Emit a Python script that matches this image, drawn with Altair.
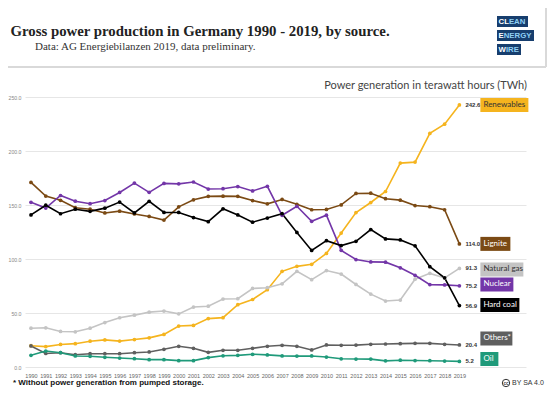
import altair as alt
import pandas as pd

years = list(range(1990, 2020))

renewables = [19.7, 18.9, 20.9, 21.6, 23.9, 25.1, 24.0, 25.4, 27.0, 30.2,
              37.9, 38.5, 44.8, 45.7, 57.7, 62.5, 71.6, 88.6, 93.2, 95.1,
              105.2, 124.0, 143.0, 152.3, 162.5, 188.8, 189.7, 216.3, 224.8, 242.6]
lignite = [170.9, 158.3, 154.3, 147.5, 146.1, 142.6, 144.3, 141.7, 139.4, 136.0,
           148.3, 154.8, 158.0, 158.2, 158.0, 154.1, 151.1, 155.1, 150.6, 145.6,
           145.9, 150.1, 160.7, 160.9, 155.8, 154.5, 149.5, 148.4, 145.6, 114.0]
natural_gas = [35.9, 36.3, 32.9, 32.6, 35.9, 41.1, 45.6, 48.0, 50.8, 51.8,
               49.2, 55.5, 56.3, 62.9, 63.2, 72.7, 73.4, 77.0, 88.6, 80.9,
               89.3, 86.1, 76.4, 67.5, 61.1, 62.0, 81.3, 86.7, 82.5, 91.3]
nuclear = [152.5, 147.2, 158.8, 153.5, 151.2, 154.1, 161.6, 170.3, 161.7, 170.0,
           169.6, 171.3, 164.8, 165.1, 167.1, 163.0, 167.3, 140.5, 148.8, 134.9,
           140.6, 108.0, 99.5, 97.3, 97.1, 91.8, 84.9, 76.3, 76.0, 75.2]
hard_coal = [140.8, 149.8, 141.9, 146.1, 144.1, 147.1, 152.7, 142.6, 153.4, 143.1,
             143.1, 138.4, 134.6, 146.5, 140.8, 134.1, 137.9, 142.0, 124.6, 107.9,
             117.0, 112.4, 116.4, 127.3, 118.6, 117.7, 112.2, 92.9, 82.6, 56.9]
others = [19.5, 12.5, 13.2, 11.4, 12.3, 12.3, 12.3, 13.2, 13.9, 16.4,
          19.2, 17.3, 13.6, 15.5, 15.5, 17.3, 19.2, 20.1, 19.2, 15.8,
          20.4, 20.1, 20.3, 21.0, 21.3, 21.6, 21.9, 21.9, 21.0, 20.4]
oil = [10.8, 14.8, 13.2, 10.2, 9.9, 9.0, 8.3, 7.7, 6.8, 6.8,
       5.9, 5.9, 8.7, 10.4, 10.8, 11.8, 11.2, 10.3, 10.1, 10.2,
       9.2, 7.6, 7.4, 7.3, 5.7, 6.3, 6.0, 5.8, 5.5, 5.2]

series_names = ["Renewables", "Lignite", "Natural gas", "Nuclear", "Hard coal", "Others", "Oil"]
series_values = [renewables, lignite, natural_gas, nuclear, hard_coal, others, oil]
box_labels = ["Renewables", "Lignite", "Natural gas", "Nuclear", "Hard coal", "Others*", "Oil"]
y_ticks = [0, 50, 100, 150, 200, 250]

# styles
line_colors = ["#f5b41e", "#7b4a14", "#c4c4c4", "#7336a8", "#000000", "#5f5f5f", "#1f9a7a"]
box_text_dark = ["Renewables", "Natural gas"]
box_widths = {"Renewables": 48, "Lignite": 30, "Natural gas": 43, "Nuclear": 33,
              "Hard coal": 39, "Others": 32, "Oil": 18}
box_shift = {"Renewables": 0.0, "Lignite": 0.0, "Natural gas": -1.0, "Nuclear": 1.2,
             "Hard coal": 0.5, "Others": 6.0, "Oil": 2.2}

PLOT_W, PLOT_H = 501, 270
XMIN, XMAX = 1989.594, 2023.51
PXYR = PLOT_W / (XMAX - XMIN)
BOX_OFF = 21

rows = []
for name, vals in zip(series_names, series_values):
    for y, v in zip(years, vals):
        rows.append({"series": name, "year": y, "value": v})
df = pd.DataFrame(rows)

end_rows = []
for name, lab, vals in zip(series_names, box_labels, series_values):
    end_rows.append({
        "series": name, "label": lab, "year": years[-1], "value": vals[-1],
        "ypos": vals[-1] + box_shift[name],
        "x2": years[-1] + (BOX_OFF + box_widths[name]) / PXYR,
        "dark": name in box_text_dark,
    })
end_df = pd.DataFrame(end_rows)

color_scale = alt.Scale(domain=series_names, range=line_colors)
x_scale = alt.Scale(domain=[XMIN, XMAX], nice=False, zero=False)
y_scale = alt.Scale(domain=[0, 250], nice=False, zero=True)

x_axis = alt.Axis(values=years, format="d", title=None, ticks=False, domain=False,
                  grid=False, labelFontSize=5.5, labelColor="#666",
                  labelFont="Liberation Sans", labelPadding=6,
                  labelOverlap=False, labelFlush=False, labelBound=False)
y_axis = alt.Axis(values=y_ticks, format=".1f", title=None,
                  ticks=False, domain=False, grid=True, gridColor="#e6e6e6",
                  gridWidth=1, labelFontSize=5.2, labelColor="#888",
                  labelFont="Liberation Sans", labelPadding=4, labelOverlap=False)

x_enc = alt.X("year:Q", scale=x_scale, axis=x_axis)
y_enc = alt.Y("value:Q", scale=y_scale, axis=y_axis)
col = alt.Color("series:N", scale=color_scale, legend=None)

base = alt.Chart(df)
lines = base.mark_line(strokeWidth=1.6).encode(x=x_enc, y=y_enc, color=col)
points = base.mark_point(filled=True, size=14, opacity=1).encode(x=x_enc, y=y_enc, color=col)

end = alt.Chart(end_df)
value_labels = end.mark_text(align="left", baseline="middle", dx=6, fontSize=6,
                             fontWeight="bold", font="Liberation Sans", color="#333").encode(
    x=x_enc, y=y_enc, text=alt.Text("value:Q", format=".1f"))
boxes = end.mark_rect(xOffset=BOX_OFF, yOffset=-7, y2Offset=7).encode(
    x=x_enc, x2="x2:Q", y=alt.Y("ypos:Q", scale=y_scale, axis=y_axis), y2="ypos:Q",
    color=col)
box_text_d = end.transform_filter("datum.dark").mark_text(
    align="left", baseline="middle", dx=BOX_OFF + 3, fontSize=8, font="Lato", color="#333").encode(
    x=x_enc, y=alt.Y("ypos:Q", scale=y_scale, axis=y_axis), text="label:N")
box_text_w = end.transform_filter("!datum.dark").mark_text(
    align="left", baseline="middle", dx=BOX_OFF + 3, fontSize=8, font="Lato", color="#ffffff").encode(
    x=x_enc, y=alt.Y("ypos:Q", scale=y_scale, axis=y_axis), text="label:N")

one = pd.DataFrame({"a": [0]})


def txt(s, x, y, **kw):
    return alt.Chart(pd.DataFrame({"t": [s]})).mark_text(**kw).encode(
        x=alt.value(x), y=alt.value(y), text="t:N")


def box(x, x2, y, y2, c):
    return alt.Chart(one).mark_rect(color=c).encode(
        x=alt.value(x), x2=alt.value(x2), y=alt.value(y), y2=alt.value(y2))


title = txt("Gross power production in Germany 1990 - 2019, by source.", -14.5, -61,
            align="left", baseline="alphabetic", font="Liberation Serif", fontSize=14.8,
            fontWeight="bold", color="#222")
subtitle = txt("Data: AG Energiebilanzen 2019, data preliminary.", 10, -47,
               align="left", baseline="alphabetic", font="Liberation Serif", fontSize=11,
               color="#333")
unit = txt("Power generation in terawatt hours (TWh)", 502, -11,
           align="right", baseline="middle", font="Lato", fontSize=11, color="#444")
foot = txt("* Without power generation from pumped storage.", -12, 286,
           align="left", baseline="middle", font="Liberation Sans", fontSize=8,
           fontWeight="bold", color="#111")
cc_text = txt("BY SA 4.0", 487, 286, align="left", baseline="middle",
              font="Liberation Sans", fontSize=7, color="#333")
cc_circle = alt.Chart(one).mark_point(shape="circle", size=55, filled=False,
                                      color="#333", strokeWidth=1, opacity=1).encode(
    x=alt.value(481), y=alt.value(286))
cc_in = txt("cc", 481, 286.5, align="center", baseline="middle",
            font="Liberation Sans", fontSize=4.5, fontWeight="bold", color="#333")

hrule = alt.Chart(one).mark_rule(color="#d9d9d9", strokeWidth=2).encode(
    x=alt.value(-25), x2=alt.value(521), y=alt.value(-30))
vrule = alt.Chart(one).mark_rule(color="#d9d9d9", strokeWidth=2).encode(
    x=alt.value(521), y=alt.value(-97), y2=alt.value(-30))

navy = "#173e6e"
light = "#8fd0f5"
logo = [box(472, 503, -81, -70, navy), box(472, 509, -67, -56, navy), box(472, 496, -53, -42, navy)]
lf = dict(align="left", baseline="middle", font="Liberation Sans", fontSize=7.8, fontWeight="bold")
logo_txt = [
    txt("CL", 473.5, -75.5, color="#ffffff", **lf),
    txt("EAN", 483.9, -75.5, color=light, **lf),
    txt("E", 473.5, -61.5, color="#ffffff", **lf),
    txt("NERGY", 478.7, -61.5, color=light, **lf),
    txt("W", 473.5, -47.5, color="#ffffff", **lf),
    txt("IRE", 480.9, -47.5, color=light, **lf),
]

chart = alt.layer(
    lines, points, value_labels, boxes, box_text_d, box_text_w,
    title, subtitle, unit, foot, cc_circle, cc_in, cc_text, hrule, vrule,
    *logo, *logo_txt
).properties(
    width=PLOT_W, height=PLOT_H, autosize="none",
    padding={"left": 17, "top": 89, "right": 21, "bottom": 21},
).configure_view(stroke=None).configure_axisX(labelOverlap=False)

chart.save("out.html", embed_options={"renderer": "svg", "actions": False})
